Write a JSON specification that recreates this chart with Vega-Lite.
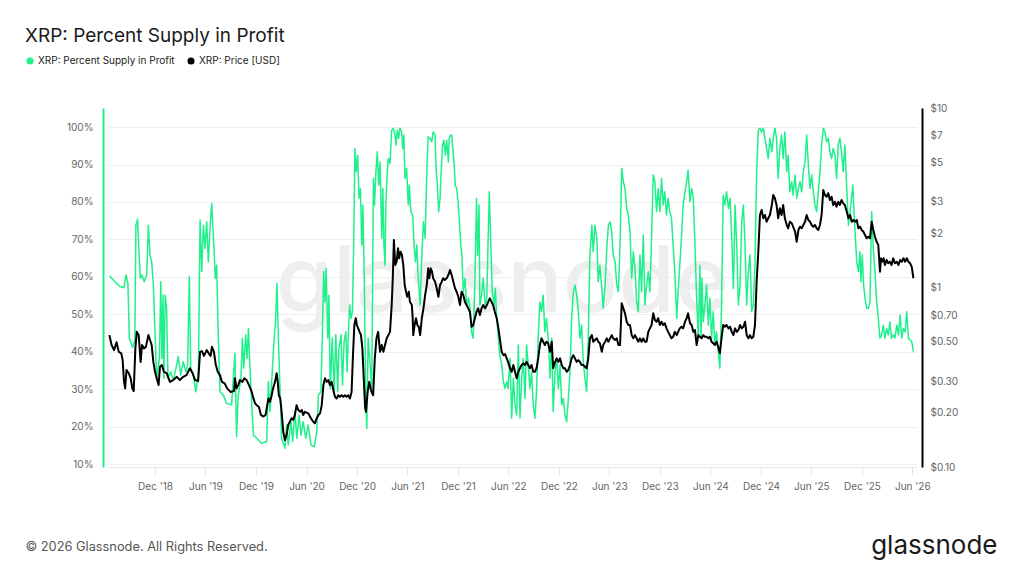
{
  "$schema": "https://vega.github.io/schema/vega-lite/v6.json",
  "width": 809,
  "height": 359,
  "autosize": {"type": "none"},
  "padding": {"left": 108, "top": 108, "right": 107, "bottom": 109},
  "background": "#ffffff",
  "config": {"font": "Inter", "view": {"stroke": null}, "axis": {"labelOverlap": false}},
  "title": {"text": "XRP: Percent Supply in Profit", "anchor": "start", "frame": "group", "dx": -83, "dy": 5, "offset": 0, "fontSize": 19, "fontWeight": 400, "color": "#1a1a1a", "font": "Inter", "baseline": "alphabetic"},
  "datasets": {
    "supply": [
{"d":"2018-06-19","v":60.3},{"d":"2018-07-09","v":58.7},{"d":"2018-07-27","v":57.4},{"d":"2018-08-11","v":57.1},{"d":"2018-08-18","v":60.5},{"d":"2018-08-25","v":58.3},{"d":"2018-08-30","v":43.6},{"d":"2018-09-11","v":41.1},{"d":"2018-09-19","v":43.1},{"d":"2018-09-23","v":73.8},{"d":"2018-09-29","v":75.4},{"d":"2018-10-04","v":66.7},{"d":"2018-10-09","v":59.6},{"d":"2018-10-15","v":60.5},{"d":"2018-10-23","v":58.7},{"d":"2018-11-01","v":60.5},{"d":"2018-11-07","v":73.8},{"d":"2018-11-13","v":65.8},{"d":"2018-11-19","v":64.0},{"d":"2018-11-25","v":57.8},{"d":"2018-12-01","v":45.3},{"d":"2018-12-07","v":32.9},{"d":"2018-12-17","v":38.2},{"d":"2018-12-22","v":58.7},{"d":"2018-12-26","v":38.2},{"d":"2018-12-30","v":55.1},
{"d":"2019-01-02","v":32.9},{"d":"2019-01-07","v":55.1},{"d":"2019-01-12","v":51.6},{"d":"2019-01-17","v":32.9},{"d":"2019-01-27","v":34.6},{"d":"2019-02-05","v":32.4},{"d":"2019-02-15","v":35.6},{"d":"2019-02-23","v":38.7},{"d":"2019-03-04","v":33.8},{"d":"2019-03-13","v":37.3},{"d":"2019-03-23","v":34.6},{"d":"2019-03-29","v":36.4},{"d":"2019-04-04","v":60.0},{"d":"2019-04-09","v":35.6},{"d":"2019-04-18","v":33.8},{"d":"2019-04-28","v":29.3},{"d":"2019-05-07","v":34.6},{"d":"2019-05-13","v":75.2},{"d":"2019-05-19","v":61.4},{"d":"2019-05-25","v":73.8},{"d":"2019-05-31","v":67.6},{"d":"2019-06-06","v":74.7},{"d":"2019-06-12","v":64.0},{"d":"2019-06-18","v":72.9},{"d":"2019-06-24","v":79.6},{"d":"2019-06-30","v":71.2},{"d":"2019-07-07","v":59.6},{"d":"2019-07-12","v":63.1},{"d":"2019-07-18","v":43.6},{"d":"2019-07-24","v":29.3},{"d":"2019-08-05","v":28.4},{"d":"2019-08-17","v":26.2},{"d":"2019-09-04","v":25.8},{"d":"2019-09-16","v":39.6},{"d":"2019-09-22","v":17.3},{"d":"2019-09-28","v":28.4},{"d":"2019-10-08","v":32.9},{"d":"2019-10-13","v":43.6},{"d":"2019-10-18","v":35.6},{"d":"2019-10-25","v":44.5},{"d":"2019-10-30","v":38.2},{"d":"2019-11-04","v":46.2},{"d":"2019-11-09","v":36.4},{"d":"2019-11-16","v":25.8},{"d":"2019-11-22","v":17.7},{"d":"2019-12-04","v":16.9},{"d":"2019-12-22","v":15.5},
{"d":"2020-01-09","v":16.0},{"d":"2020-01-15","v":32.0},{"d":"2020-01-21","v":24.0},{"d":"2020-01-29","v":34.6},{"d":"2020-02-05","v":43.6},{"d":"2020-02-10","v":48.0},{"d":"2020-02-15","v":58.3},{"d":"2020-02-21","v":41.8},{"d":"2020-02-26","v":30.2},{"d":"2020-03-03","v":16.9},{"d":"2020-03-15","v":14.2},{"d":"2020-03-21","v":20.4},{"d":"2020-03-27","v":15.1},{"d":"2020-04-06","v":21.3},{"d":"2020-04-12","v":16.0},{"d":"2020-04-20","v":24.0},{"d":"2020-04-27","v":16.9},{"d":"2020-05-05","v":23.1},{"d":"2020-05-12","v":17.7},{"d":"2020-05-20","v":21.3},{"d":"2020-05-29","v":16.9},{"d":"2020-06-07","v":20.4},{"d":"2020-06-17","v":15.1},{"d":"2020-06-29","v":14.6},{"d":"2020-07-08","v":18.6},{"d":"2020-07-14","v":28.4},{"d":"2020-07-23","v":29.3},{"d":"2020-07-28","v":43.6},{"d":"2020-08-02","v":61.4},{"d":"2020-08-07","v":53.3},{"d":"2020-08-11","v":62.3},{"d":"2020-08-17","v":43.6},{"d":"2020-08-21","v":55.1},{"d":"2020-08-26","v":30.2},{"d":"2020-09-02","v":43.6},{"d":"2020-09-09","v":29.3},{"d":"2020-09-15","v":44.5},{"d":"2020-09-22","v":29.3},{"d":"2020-09-26","v":40.9},{"d":"2020-10-04","v":44.5},{"d":"2020-10-09","v":31.1},{"d":"2020-10-15","v":42.7},{"d":"2020-10-21","v":45.3},{"d":"2020-10-26","v":34.6},{"d":"2020-10-30","v":43.6},{"d":"2020-11-04","v":52.5},{"d":"2020-11-09","v":48.9},{"d":"2020-11-14","v":50.7},{"d":"2020-11-19","v":70.3},{"d":"2020-11-23","v":94.3},{"d":"2020-11-28","v":88.1},{"d":"2020-12-03","v":92.5},{"d":"2020-12-08","v":81.0},{"d":"2020-12-13","v":83.6},{"d":"2020-12-18","v":68.5},{"d":"2020-12-22","v":79.2},{"d":"2020-12-27","v":58.7},
{"d":"2021-01-01","v":28.4},{"d":"2021-01-05","v":19.5},{"d":"2021-01-10","v":43.6},{"d":"2021-01-23","v":30.2},{"d":"2021-01-29","v":86.3},{"d":"2021-02-02","v":79.2},{"d":"2021-02-07","v":88.1},{"d":"2021-02-12","v":93.4},{"d":"2021-02-17","v":84.5},{"d":"2021-02-22","v":90.7},{"d":"2021-02-28","v":70.3},{"d":"2021-03-04","v":83.6},{"d":"2021-03-08","v":68.5},{"d":"2021-03-12","v":63.1},{"d":"2021-03-15","v":79.2},{"d":"2021-03-20","v":88.1},{"d":"2021-03-24","v":91.6},{"d":"2021-03-30","v":90.3},{"d":"2021-04-05","v":99.2},{"d":"2021-04-11","v":99.7},{"d":"2021-04-17","v":97.9},{"d":"2021-04-21","v":95.2},{"d":"2021-04-25","v":99.2},{"d":"2021-04-30","v":97.0},{"d":"2021-05-05","v":99.7},{"d":"2021-05-11","v":98.7},{"d":"2021-05-15","v":94.3},{"d":"2021-05-19","v":97.9},{"d":"2021-05-23","v":86.3},{"d":"2021-05-29","v":89.0},{"d":"2021-06-04","v":79.2},{"d":"2021-06-08","v":84.5},{"d":"2021-06-13","v":77.4},{"d":"2021-06-20","v":76.5},{"d":"2021-06-25","v":68.5},{"d":"2021-06-30","v":64.0},{"d":"2021-07-05","v":68.5},{"d":"2021-07-10","v":59.6},{"d":"2021-07-17","v":52.5},{"d":"2021-07-23","v":65.8},{"d":"2021-07-29","v":74.7},{"d":"2021-08-04","v":70.3},{"d":"2021-08-10","v":88.1},{"d":"2021-08-15","v":97.4},{"d":"2021-08-22","v":97.0},{"d":"2021-08-28","v":96.1},{"d":"2021-09-02","v":98.7},{"d":"2021-09-09","v":97.9},{"d":"2021-09-12","v":89.9},{"d":"2021-09-17","v":84.5},{"d":"2021-09-22","v":77.4},{"d":"2021-09-27","v":81.0},{"d":"2021-10-01","v":88.1},{"d":"2021-10-06","v":95.2},{"d":"2021-10-11","v":96.5},{"d":"2021-10-16","v":92.5},{"d":"2021-10-21","v":96.5},{"d":"2021-10-27","v":90.7},{"d":"2021-10-30","v":97.0},{"d":"2021-11-05","v":97.9},{"d":"2021-11-08","v":97.9},{"d":"2021-11-12","v":94.3},{"d":"2021-11-17","v":89.9},{"d":"2021-11-21","v":84.5},{"d":"2021-11-26","v":83.6},{"d":"2021-12-01","v":80.1},{"d":"2021-12-06","v":74.7},{"d":"2021-12-11","v":68.5},{"d":"2021-12-15","v":65.8},{"d":"2021-12-20","v":56.0},{"d":"2021-12-26","v":59.6},
{"d":"2022-01-01","v":52.5},{"d":"2022-01-07","v":54.3},{"d":"2022-01-13","v":51.6},{"d":"2022-01-19","v":45.3},{"d":"2022-01-25","v":43.6},{"d":"2022-01-31","v":58.7},{"d":"2022-02-06","v":81.0},{"d":"2022-02-10","v":65.8},{"d":"2022-02-15","v":79.2},{"d":"2022-02-18","v":52.5},{"d":"2022-02-24","v":55.1},{"d":"2022-03-02","v":59.6},{"d":"2022-03-09","v":52.5},{"d":"2022-03-15","v":54.3},{"d":"2022-03-20","v":70.3},{"d":"2022-03-24","v":82.7},{"d":"2022-03-29","v":70.3},{"d":"2022-04-04","v":56.0},{"d":"2022-04-10","v":52.5},{"d":"2022-04-15","v":56.9},{"d":"2022-04-20","v":48.9},{"d":"2022-04-26","v":43.6},{"d":"2022-05-01","v":39.1},{"d":"2022-05-08","v":36.4},{"d":"2022-05-14","v":32.0},{"d":"2022-05-20","v":30.2},{"d":"2022-05-26","v":32.0},{"d":"2022-05-31","v":30.2},{"d":"2022-06-07","v":38.2},{"d":"2022-06-13","v":22.2},{"d":"2022-06-19","v":32.9},{"d":"2022-06-25","v":25.8},{"d":"2022-07-01","v":23.1},{"d":"2022-07-07","v":41.8},{"d":"2022-07-13","v":22.2},{"d":"2022-07-19","v":32.9},{"d":"2022-07-25","v":38.2},{"d":"2022-07-31","v":27.5},{"d":"2022-08-06","v":41.8},{"d":"2022-08-12","v":36.4},{"d":"2022-08-18","v":30.2},{"d":"2022-08-24","v":34.6},{"d":"2022-08-30","v":25.8},{"d":"2022-09-05","v":22.2},{"d":"2022-09-11","v":29.3},{"d":"2022-09-17","v":43.6},{"d":"2022-09-23","v":53.3},{"d":"2022-09-29","v":50.7},{"d":"2022-10-05","v":55.1},{"d":"2022-10-11","v":45.3},{"d":"2022-10-17","v":48.9},{"d":"2022-10-23","v":43.6},{"d":"2022-10-30","v":32.9},{"d":"2022-11-05","v":43.6},{"d":"2022-11-10","v":24.0},{"d":"2022-11-17","v":34.6},{"d":"2022-11-23","v":38.2},{"d":"2022-11-29","v":30.2},{"d":"2022-12-05","v":36.4},{"d":"2022-12-11","v":25.8},{"d":"2022-12-17","v":27.5},{"d":"2022-12-23","v":23.1},{"d":"2022-12-29","v":21.3},
{"d":"2023-01-04","v":27.5},{"d":"2023-01-10","v":34.6},{"d":"2023-01-16","v":48.9},{"d":"2023-01-22","v":56.0},{"d":"2023-01-28","v":57.8},{"d":"2023-02-03","v":55.1},{"d":"2023-02-09","v":50.7},{"d":"2023-02-15","v":43.6},{"d":"2023-02-21","v":47.1},{"d":"2023-02-27","v":37.3},{"d":"2023-03-05","v":32.9},{"d":"2023-03-11","v":29.3},{"d":"2023-03-17","v":43.6},{"d":"2023-03-23","v":65.8},{"d":"2023-03-30","v":73.8},{"d":"2023-04-04","v":66.7},{"d":"2023-04-10","v":73.8},{"d":"2023-04-17","v":70.3},{"d":"2023-04-22","v":58.7},{"d":"2023-04-28","v":63.1},{"d":"2023-05-05","v":56.9},{"d":"2023-05-10","v":51.6},{"d":"2023-05-17","v":57.8},{"d":"2023-05-23","v":67.6},{"d":"2023-05-29","v":73.8},{"d":"2023-06-04","v":74.7},{"d":"2023-06-10","v":72.0},{"d":"2023-06-15","v":65.8},{"d":"2023-06-22","v":64.0},{"d":"2023-06-28","v":57.8},{"d":"2023-07-04","v":56.0},{"d":"2023-07-10","v":68.5},{"d":"2023-07-16","v":89.0},{"d":"2023-07-22","v":85.4},{"d":"2023-07-28","v":83.6},{"d":"2023-08-03","v":78.3},{"d":"2023-08-09","v":76.5},{"d":"2023-08-15","v":72.0},{"d":"2023-08-21","v":59.6},{"d":"2023-08-27","v":66.7},{"d":"2023-09-02","v":62.3},{"d":"2023-09-08","v":53.3},{"d":"2023-09-14","v":50.7},{"d":"2023-09-20","v":65.8},{"d":"2023-09-26","v":56.0},{"d":"2023-10-02","v":71.2},{"d":"2023-10-08","v":52.5},{"d":"2023-10-14","v":57.8},{"d":"2023-10-20","v":61.4},{"d":"2023-10-26","v":56.0},{"d":"2023-11-01","v":70.3},{"d":"2023-11-07","v":87.2},{"d":"2023-11-13","v":85.4},{"d":"2023-11-19","v":77.4},{"d":"2023-11-25","v":83.6},{"d":"2023-12-01","v":77.4},{"d":"2023-12-07","v":86.3},{"d":"2023-12-13","v":79.2},{"d":"2023-12-19","v":82.7},{"d":"2023-12-25","v":76.5},{"d":"2023-12-31","v":81.0},
{"d":"2024-01-06","v":77.4},{"d":"2024-01-12","v":75.6},{"d":"2024-01-18","v":68.5},{"d":"2024-01-24","v":61.4},{"d":"2024-01-31","v":48.9},{"d":"2024-02-05","v":56.0},{"d":"2024-02-11","v":63.1},{"d":"2024-02-17","v":70.3},{"d":"2024-02-23","v":79.2},{"d":"2024-03-01","v":82.7},{"d":"2024-03-07","v":85.4},{"d":"2024-03-12","v":88.5},{"d":"2024-03-19","v":80.1},{"d":"2024-03-25","v":83.6},{"d":"2024-03-31","v":81.0},{"d":"2024-04-06","v":68.5},{"d":"2024-04-12","v":54.3},{"d":"2024-04-18","v":43.6},{"d":"2024-04-24","v":63.1},{"d":"2024-04-28","v":43.6},{"d":"2024-05-01","v":59.6},{"d":"2024-05-06","v":48.0},{"d":"2024-05-12","v":52.5},{"d":"2024-05-18","v":57.8},{"d":"2024-05-24","v":47.1},{"d":"2024-05-30","v":54.3},{"d":"2024-06-05","v":43.6},{"d":"2024-06-11","v":50.7},{"d":"2024-06-17","v":41.8},{"d":"2024-06-23","v":45.3},{"d":"2024-06-29","v":40.0},{"d":"2024-07-05","v":35.6},{"d":"2024-07-11","v":52.5},{"d":"2024-07-17","v":81.8},{"d":"2024-07-23","v":79.2},{"d":"2024-07-29","v":82.7},{"d":"2024-08-05","v":78.3},{"d":"2024-08-11","v":81.0},{"d":"2024-08-17","v":70.3},{"d":"2024-08-23","v":56.9},{"d":"2024-08-29","v":79.2},{"d":"2024-09-04","v":68.5},{"d":"2024-09-10","v":52.5},{"d":"2024-09-16","v":57.8},{"d":"2024-09-22","v":74.7},{"d":"2024-09-28","v":79.2},{"d":"2024-10-04","v":68.5},{"d":"2024-10-10","v":52.5},{"d":"2024-10-16","v":61.4},{"d":"2024-10-22","v":65.8},{"d":"2024-10-28","v":50.7},{"d":"2024-11-03","v":52.5},{"d":"2024-11-09","v":63.1},{"d":"2024-11-15","v":88.1},{"d":"2024-11-21","v":99.2},{"d":"2024-11-27","v":99.7},{"d":"2024-12-03","v":98.7},{"d":"2024-12-09","v":99.7},{"d":"2024-12-15","v":97.0},{"d":"2024-12-21","v":94.3},{"d":"2024-12-27","v":91.6},
{"d":"2025-01-02","v":97.0},{"d":"2025-01-09","v":93.4},{"d":"2025-01-14","v":97.0},{"d":"2025-01-20","v":99.7},{"d":"2025-01-26","v":97.0},{"d":"2025-02-01","v":86.3},{"d":"2025-02-07","v":94.3},{"d":"2025-02-13","v":97.9},{"d":"2025-02-19","v":91.6},{"d":"2025-02-25","v":98.7},{"d":"2025-03-04","v":88.1},{"d":"2025-03-09","v":92.5},{"d":"2025-03-15","v":82.7},{"d":"2025-03-22","v":85.4},{"d":"2025-03-27","v":81.8},{"d":"2025-04-03","v":87.2},{"d":"2025-04-09","v":81.0},{"d":"2025-04-15","v":83.6},{"d":"2025-04-21","v":85.4},{"d":"2025-04-27","v":82.7},{"d":"2025-05-03","v":88.1},{"d":"2025-05-09","v":90.7},{"d":"2025-05-15","v":97.9},{"d":"2025-05-21","v":89.9},{"d":"2025-05-27","v":83.6},{"d":"2025-06-02","v":87.2},{"d":"2025-06-08","v":82.7},{"d":"2025-06-14","v":79.2},{"d":"2025-06-20","v":77.4},{"d":"2025-06-26","v":82.7},{"d":"2025-07-02","v":88.1},{"d":"2025-07-08","v":95.2},{"d":"2025-07-14","v":99.7},{"d":"2025-07-20","v":98.7},{"d":"2025-07-26","v":96.1},{"d":"2025-08-01","v":97.0},{"d":"2025-08-07","v":93.4},{"d":"2025-08-13","v":91.6},{"d":"2025-08-19","v":94.3},{"d":"2025-08-25","v":92.5},{"d":"2025-08-31","v":86.3},{"d":"2025-09-06","v":95.2},{"d":"2025-09-12","v":97.0},{"d":"2025-09-18","v":93.4},{"d":"2025-09-24","v":88.1},{"d":"2025-09-30","v":95.2},{"d":"2025-10-07","v":83.6},{"d":"2025-10-13","v":73.8},{"d":"2025-10-19","v":77.4},{"d":"2025-10-25","v":81.8},{"d":"2025-10-29","v":84.5},{"d":"2025-11-01","v":79.2},{"d":"2025-11-06","v":72.0},{"d":"2025-11-12","v":64.0},{"d":"2025-11-18","v":61.4},{"d":"2025-11-24","v":66.7},{"d":"2025-11-27","v":58.7},{"d":"2025-12-02","v":65.8},{"d":"2025-12-07","v":57.8},{"d":"2025-12-12","v":54.3},{"d":"2025-12-18","v":51.6},{"d":"2025-12-24","v":51.6},{"d":"2025-12-30","v":53.3},
{"d":"2026-01-05","v":77.4},{"d":"2026-01-11","v":67.6},{"d":"2026-01-17","v":61.4},{"d":"2026-01-23","v":53.3},{"d":"2026-01-29","v":48.9},{"d":"2026-02-04","v":43.6},{"d":"2026-02-10","v":44.5},{"d":"2026-02-16","v":47.1},{"d":"2026-02-22","v":43.6},{"d":"2026-02-28","v":46.2},{"d":"2026-03-06","v":44.5},{"d":"2026-03-12","v":48.0},{"d":"2026-03-18","v":43.6},{"d":"2026-03-24","v":44.5},{"d":"2026-03-30","v":43.6},{"d":"2026-04-06","v":47.1},{"d":"2026-04-12","v":44.5},{"d":"2026-04-18","v":49.8},{"d":"2026-04-24","v":43.6},{"d":"2026-04-30","v":46.2},{"d":"2026-05-06","v":45.3},{"d":"2026-05-12","v":50.7},{"d":"2026-05-18","v":43.6},{"d":"2026-05-24","v":43.1},{"d":"2026-05-30","v":42.7},{"d":"2026-06-05","v":40.0}
    ],
    "price": [
{"d":"2018-06-19","p":0.543},{"d":"2018-06-27","p":0.478},{"d":"2018-07-06","p":0.448},{"d":"2018-07-15","p":0.495},{"d":"2018-07-23","p":0.438},{"d":"2018-08-01","p":0.430},{"d":"2018-08-06","p":0.394},{"d":"2018-08-11","p":0.298},{"d":"2018-08-15","p":0.274},{"d":"2018-08-20","p":0.347},{"d":"2018-08-28","p":0.333},{"d":"2018-09-04","p":0.312},{"d":"2018-09-10","p":0.274},{"d":"2018-09-15","p":0.265},{"d":"2018-09-21","p":0.458},{"d":"2018-09-26","p":0.566},{"d":"2018-10-03","p":0.543},{"d":"2018-10-10","p":0.385},{"d":"2018-10-15","p":0.478},{"d":"2018-10-22","p":0.458},{"d":"2018-10-29","p":0.467},{"d":"2018-11-07","p":0.543},{"d":"2018-11-13","p":0.510},{"d":"2018-11-19","p":0.478},{"d":"2018-11-25","p":0.385},{"d":"2018-12-01","p":0.339},{"d":"2018-12-07","p":0.312},{"d":"2018-12-14","p":0.286},{"d":"2018-12-19","p":0.362},{"d":"2018-12-26","p":0.370},
{"d":"2019-01-02","p":0.339},{"d":"2019-01-12","p":0.333},{"d":"2019-01-24","p":0.298},{"d":"2019-02-05","p":0.305},{"d":"2019-02-18","p":0.318},{"d":"2019-03-01","p":0.305},{"d":"2019-03-13","p":0.318},{"d":"2019-03-25","p":0.325},{"d":"2019-04-06","p":0.355},{"d":"2019-04-16","p":0.333},{"d":"2019-04-25","p":0.305},{"d":"2019-05-06","p":0.301},{"d":"2019-05-13","p":0.438},{"d":"2019-05-20","p":0.442},{"d":"2019-05-27","p":0.416},{"d":"2019-06-06","p":0.448},{"d":"2019-06-13","p":0.430},{"d":"2019-06-20","p":0.416},{"d":"2019-06-25","p":0.467},{"d":"2019-07-02","p":0.438},{"d":"2019-07-09","p":0.370},{"d":"2019-07-16","p":0.339},{"d":"2019-07-24","p":0.325},{"d":"2019-07-31","p":0.298},{"d":"2019-08-10","p":0.292},{"d":"2019-08-19","p":0.274},{"d":"2019-08-31","p":0.262},{"d":"2019-09-13","p":0.265},{"d":"2019-09-16","p":0.312},{"d":"2019-09-22","p":0.274},{"d":"2019-09-28","p":0.286},{"d":"2019-10-04","p":0.305},{"d":"2019-10-13","p":0.298},{"d":"2019-10-20","p":0.312},{"d":"2019-10-28","p":0.305},{"d":"2019-11-06","p":0.286},{"d":"2019-11-16","p":0.262},{"d":"2019-11-22","p":0.241},{"d":"2019-11-28","p":0.226},{"d":"2019-12-04","p":0.221},{"d":"2019-12-12","p":0.216},{"d":"2019-12-19","p":0.195},{"d":"2019-12-28","p":0.191},
{"d":"2020-01-05","p":0.195},{"d":"2020-01-15","p":0.241},{"d":"2020-01-21","p":0.231},{"d":"2020-01-27","p":0.251},{"d":"2020-02-01","p":0.274},{"d":"2020-02-08","p":0.298},{"d":"2020-02-14","p":0.333},{"d":"2020-02-18","p":0.298},{"d":"2020-02-22","p":0.251},{"d":"2020-02-27","p":0.241},{"d":"2020-03-03","p":0.203},{"d":"2020-03-09","p":0.157},{"d":"2020-03-15","p":0.141},{"d":"2020-03-21","p":0.151},{"d":"2020-03-27","p":0.172},{"d":"2020-04-02","p":0.179},{"d":"2020-04-08","p":0.187},{"d":"2020-04-14","p":0.183},{"d":"2020-04-20","p":0.195},{"d":"2020-04-26","p":0.221},{"d":"2020-05-02","p":0.208},{"d":"2020-05-09","p":0.203},{"d":"2020-05-15","p":0.208},{"d":"2020-05-20","p":0.195},{"d":"2020-05-26","p":0.203},{"d":"2020-06-07","p":0.199},{"d":"2020-06-17","p":0.187},{"d":"2020-06-25","p":0.179},{"d":"2020-07-01","p":0.175},{"d":"2020-07-08","p":0.187},{"d":"2020-07-14","p":0.195},{"d":"2020-07-20","p":0.199},{"d":"2020-07-26","p":0.221},{"d":"2020-08-01","p":0.286},{"d":"2020-08-07","p":0.312},{"d":"2020-08-13","p":0.298},{"d":"2020-08-19","p":0.305},{"d":"2020-08-25","p":0.286},{"d":"2020-08-31","p":0.298},{"d":"2020-09-06","p":0.268},{"d":"2020-09-12","p":0.246},{"d":"2020-09-18","p":0.241},{"d":"2020-09-24","p":0.251},{"d":"2020-09-30","p":0.246},{"d":"2020-10-06","p":0.251},{"d":"2020-10-12","p":0.246},{"d":"2020-10-18","p":0.251},{"d":"2020-10-24","p":0.246},{"d":"2020-10-30","p":0.251},{"d":"2020-11-05","p":0.241},{"d":"2020-11-11","p":0.262},{"d":"2020-11-16","p":0.420},{"d":"2020-11-21","p":0.618},{"d":"2020-11-26","p":0.674},{"d":"2020-11-30","p":0.618},{"d":"2020-12-05","p":0.592},{"d":"2020-12-10","p":0.566},{"d":"2020-12-15","p":0.543},{"d":"2020-12-20","p":0.458},{"d":"2020-12-25","p":0.312},{"d":"2020-12-30","p":0.213},
{"d":"2021-01-02","p":0.203},{"d":"2021-01-08","p":0.262},{"d":"2021-01-14","p":0.298},{"d":"2021-01-20","p":0.268},{"d":"2021-01-28","p":0.251},{"d":"2021-02-03","p":0.403},{"d":"2021-02-09","p":0.521},{"d":"2021-02-15","p":0.566},{"d":"2021-02-22","p":0.438},{"d":"2021-02-28","p":0.478},{"d":"2021-03-06","p":0.438},{"d":"2021-03-12","p":0.478},{"d":"2021-03-18","p":0.521},{"d":"2021-03-24","p":0.543},{"d":"2021-03-30","p":0.566},{"d":"2021-04-05","p":0.798},{"d":"2021-04-09","p":1.126},{"d":"2021-04-13","p":1.839},{"d":"2021-04-18","p":1.334},{"d":"2021-04-23","p":1.392},{"d":"2021-04-28","p":1.654},{"d":"2021-05-02","p":1.455},{"d":"2021-05-07","p":1.583},{"d":"2021-05-12","p":1.518},{"d":"2021-05-17","p":1.334},{"d":"2021-05-22","p":1.033},{"d":"2021-05-27","p":0.947},{"d":"2021-05-31","p":0.888},{"d":"2021-06-06","p":0.947},{"d":"2021-06-10","p":0.832},{"d":"2021-06-17","p":0.798},{"d":"2021-06-20","p":0.674},{"d":"2021-06-22","p":0.543},{"d":"2021-06-27","p":0.618},{"d":"2021-07-02","p":0.674},{"d":"2021-07-07","p":0.618},{"d":"2021-07-12","p":0.604},{"d":"2021-07-17","p":0.543},{"d":"2021-07-23","p":0.674},{"d":"2021-07-29","p":0.765},{"d":"2021-08-04","p":0.908},{"d":"2021-08-10","p":1.033},{"d":"2021-08-15","p":1.279},{"d":"2021-08-19","p":1.126},{"d":"2021-08-24","p":1.279},{"d":"2021-08-29","p":1.224},{"d":"2021-09-02","p":1.126},{"d":"2021-09-09","p":1.077},{"d":"2021-09-15","p":0.990},{"d":"2021-09-21","p":0.888},{"d":"2021-09-27","p":1.033},{"d":"2021-10-03","p":1.077},{"d":"2021-10-08","p":1.126},{"d":"2021-10-14","p":1.101},{"d":"2021-10-21","p":1.126},{"d":"2021-10-27","p":1.173},{"d":"2021-11-02","p":1.251},{"d":"2021-11-08","p":1.173},{"d":"2021-11-14","p":1.077},{"d":"2021-11-20","p":0.990},{"d":"2021-11-26","p":0.947},{"d":"2021-12-02","p":0.888},{"d":"2021-12-08","p":0.798},{"d":"2021-12-14","p":0.947},{"d":"2021-12-20","p":0.908},{"d":"2021-12-26","p":0.832},
{"d":"2022-01-01","p":0.798},{"d":"2022-01-07","p":0.765},{"d":"2022-01-13","p":0.733},{"d":"2022-01-19","p":0.604},{"d":"2022-01-25","p":0.618},{"d":"2022-01-31","p":0.674},{"d":"2022-02-06","p":0.733},{"d":"2022-02-12","p":0.765},{"d":"2022-02-18","p":0.703},{"d":"2022-02-24","p":0.765},{"d":"2022-03-02","p":0.798},{"d":"2022-03-09","p":0.765},{"d":"2022-03-15","p":0.798},{"d":"2022-03-20","p":0.832},{"d":"2022-03-26","p":0.870},{"d":"2022-04-01","p":0.832},{"d":"2022-04-07","p":0.798},{"d":"2022-04-13","p":0.733},{"d":"2022-04-20","p":0.674},{"d":"2022-04-26","p":0.592},{"d":"2022-05-01","p":0.521},{"d":"2022-05-08","p":0.438},{"d":"2022-05-14","p":0.420},{"d":"2022-05-20","p":0.426},{"d":"2022-05-26","p":0.403},{"d":"2022-05-31","p":0.385},{"d":"2022-06-07","p":0.355},{"d":"2022-06-13","p":0.339},{"d":"2022-06-19","p":0.370},{"d":"2022-06-25","p":0.339},{"d":"2022-07-01","p":0.312},{"d":"2022-07-07","p":0.339},{"d":"2022-07-13","p":0.355},{"d":"2022-07-19","p":0.370},{"d":"2022-07-25","p":0.378},{"d":"2022-07-31","p":0.370},{"d":"2022-08-06","p":0.385},{"d":"2022-08-12","p":0.370},{"d":"2022-08-18","p":0.355},{"d":"2022-08-24","p":0.370},{"d":"2022-08-30","p":0.339},{"d":"2022-09-05","p":0.339},{"d":"2022-09-11","p":0.355},{"d":"2022-09-17","p":0.403},{"d":"2022-09-23","p":0.478},{"d":"2022-09-29","p":0.521},{"d":"2022-10-05","p":0.499},{"d":"2022-10-11","p":0.478},{"d":"2022-10-17","p":0.499},{"d":"2022-10-23","p":0.489},{"d":"2022-10-30","p":0.438},{"d":"2022-11-05","p":0.499},{"d":"2022-11-10","p":0.355},{"d":"2022-11-17","p":0.385},{"d":"2022-11-23","p":0.403},{"d":"2022-11-29","p":0.385},{"d":"2022-12-05","p":0.403},{"d":"2022-12-11","p":0.370},{"d":"2022-12-17","p":0.355},{"d":"2022-12-23","p":0.355},{"d":"2022-12-29","p":0.339},
{"d":"2023-01-04","p":0.347},{"d":"2023-01-10","p":0.370},{"d":"2023-01-16","p":0.403},{"d":"2023-01-22","p":0.420},{"d":"2023-01-28","p":0.403},{"d":"2023-02-03","p":0.385},{"d":"2023-02-09","p":0.394},{"d":"2023-02-15","p":0.385},{"d":"2023-02-21","p":0.370},{"d":"2023-02-27","p":0.370},{"d":"2023-03-05","p":0.362},{"d":"2023-03-11","p":0.355},{"d":"2023-03-17","p":0.403},{"d":"2023-03-23","p":0.521},{"d":"2023-03-30","p":0.543},{"d":"2023-04-04","p":0.499},{"d":"2023-04-10","p":0.510},{"d":"2023-04-17","p":0.521},{"d":"2023-04-22","p":0.499},{"d":"2023-04-28","p":0.489},{"d":"2023-05-05","p":0.438},{"d":"2023-05-10","p":0.478},{"d":"2023-05-17","p":0.499},{"d":"2023-05-23","p":0.521},{"d":"2023-05-29","p":0.499},{"d":"2023-06-04","p":0.521},{"d":"2023-06-10","p":0.543},{"d":"2023-06-15","p":0.521},{"d":"2023-06-22","p":0.510},{"d":"2023-06-28","p":0.521},{"d":"2023-07-04","p":0.478},{"d":"2023-07-10","p":0.478},{"d":"2023-07-16","p":0.816},{"d":"2023-07-22","p":0.765},{"d":"2023-07-28","p":0.718},{"d":"2023-08-03","p":0.645},{"d":"2023-08-09","p":0.618},{"d":"2023-08-15","p":0.618},{"d":"2023-08-21","p":0.543},{"d":"2023-08-27","p":0.521},{"d":"2023-09-02","p":0.543},{"d":"2023-09-08","p":0.521},{"d":"2023-09-14","p":0.499},{"d":"2023-09-20","p":0.521},{"d":"2023-09-26","p":0.499},{"d":"2023-10-02","p":0.521},{"d":"2023-10-08","p":0.499},{"d":"2023-10-14","p":0.499},{"d":"2023-10-20","p":0.566},{"d":"2023-10-26","p":0.592},{"d":"2023-11-01","p":0.618},{"d":"2023-11-07","p":0.718},{"d":"2023-11-13","p":0.659},{"d":"2023-11-19","p":0.645},{"d":"2023-11-25","p":0.674},{"d":"2023-12-01","p":0.618},{"d":"2023-12-07","p":0.645},{"d":"2023-12-13","p":0.618},{"d":"2023-12-19","p":0.632},{"d":"2023-12-25","p":0.592},{"d":"2023-12-31","p":0.566},
{"d":"2024-01-06","p":0.543},{"d":"2024-01-12","p":0.521},{"d":"2024-01-18","p":0.531},{"d":"2024-01-24","p":0.566},{"d":"2024-01-31","p":0.543},{"d":"2024-02-05","p":0.566},{"d":"2024-02-11","p":0.592},{"d":"2024-02-17","p":0.604},{"d":"2024-02-23","p":0.592},{"d":"2024-03-01","p":0.645},{"d":"2024-03-07","p":0.674},{"d":"2024-03-12","p":0.718},{"d":"2024-03-19","p":0.632},{"d":"2024-03-25","p":0.618},{"d":"2024-03-31","p":0.566},{"d":"2024-04-06","p":0.579},{"d":"2024-04-12","p":0.478},{"d":"2024-04-18","p":0.543},{"d":"2024-04-24","p":0.531},{"d":"2024-04-30","p":0.521},{"d":"2024-05-06","p":0.543},{"d":"2024-05-12","p":0.531},{"d":"2024-05-18","p":0.531},{"d":"2024-05-24","p":0.521},{"d":"2024-05-30","p":0.531},{"d":"2024-06-05","p":0.499},{"d":"2024-06-11","p":0.489},{"d":"2024-06-17","p":0.478},{"d":"2024-06-23","p":0.499},{"d":"2024-06-29","p":0.467},{"d":"2024-07-05","p":0.430},{"d":"2024-07-11","p":0.521},{"d":"2024-07-17","p":0.618},{"d":"2024-07-23","p":0.604},{"d":"2024-07-29","p":0.618},{"d":"2024-08-05","p":0.592},{"d":"2024-08-11","p":0.604},{"d":"2024-08-17","p":0.566},{"d":"2024-08-23","p":0.543},{"d":"2024-08-29","p":0.592},{"d":"2024-09-04","p":0.566},{"d":"2024-09-10","p":0.579},{"d":"2024-09-16","p":0.618},{"d":"2024-09-22","p":0.592},{"d":"2024-09-28","p":0.604},{"d":"2024-10-04","p":0.645},{"d":"2024-10-10","p":0.543},{"d":"2024-10-16","p":0.521},{"d":"2024-10-22","p":0.543},{"d":"2024-10-28","p":0.521},{"d":"2024-11-03","p":0.531},{"d":"2024-11-09","p":0.618},{"d":"2024-11-15","p":1.077},{"d":"2024-11-21","p":1.583},{"d":"2024-11-27","p":2.535},{"d":"2024-12-03","p":2.703},{"d":"2024-12-09","p":2.43},{"d":"2024-12-15","p":2.535},{"d":"2024-12-21","p":2.325},{"d":"2024-12-27","p":2.43},
{"d":"2025-01-02","p":2.535},{"d":"2025-01-09","p":2.883},{"d":"2025-01-14","p":3.276},{"d":"2025-01-20","p":3.141},{"d":"2025-01-26","p":2.883},{"d":"2025-02-01","p":2.43},{"d":"2025-02-07","p":2.764},{"d":"2025-02-13","p":2.535},{"d":"2025-02-19","p":2.883},{"d":"2025-02-25","p":2.43},{"d":"2025-03-04","p":2.229},{"d":"2025-03-09","p":2.137},{"d":"2025-03-15","p":2.325},{"d":"2025-03-22","p":2.28},{"d":"2025-03-27","p":2.18},{"d":"2025-04-03","p":2.045},{"d":"2025-04-09","p":1.799},{"d":"2025-04-15","p":2.091},{"d":"2025-04-21","p":2.18},{"d":"2025-04-27","p":2.137},{"d":"2025-05-03","p":2.229},{"d":"2025-05-09","p":2.325},{"d":"2025-05-15","p":2.535},{"d":"2025-05-21","p":2.377},{"d":"2025-05-27","p":2.325},{"d":"2025-06-02","p":2.229},{"d":"2025-06-08","p":2.18},{"d":"2025-06-14","p":2.229},{"d":"2025-06-20","p":2.137},{"d":"2025-06-26","p":2.091},{"d":"2025-07-02","p":2.229},{"d":"2025-07-08","p":2.535},{"d":"2025-07-14","p":3.493},{"d":"2025-07-20","p":3.276},{"d":"2025-07-26","p":3.203},{"d":"2025-08-01","p":3.35},{"d":"2025-08-07","p":3.074},{"d":"2025-08-13","p":3.203},{"d":"2025-08-19","p":2.883},{"d":"2025-08-25","p":3.006},{"d":"2025-08-31","p":2.819},{"d":"2025-09-06","p":3.006},{"d":"2025-09-12","p":2.883},{"d":"2025-09-18","p":3.074},{"d":"2025-09-24","p":2.948},{"d":"2025-09-30","p":2.883},{"d":"2025-10-07","p":2.644},{"d":"2025-10-13","p":2.43},{"d":"2025-10-19","p":2.535},{"d":"2025-10-25","p":2.325},{"d":"2025-10-31","p":2.377},{"d":"2025-11-06","p":2.325},{"d":"2025-11-12","p":2.377},{"d":"2025-11-18","p":2.137},{"d":"2025-11-24","p":2.18},{"d":"2025-11-30","p":2.091},{"d":"2025-12-06","p":2.045},{"d":"2025-12-12","p":1.961},{"d":"2025-12-18","p":1.88},{"d":"2025-12-24","p":1.917},{"d":"2025-12-30","p":1.88},
{"d":"2026-01-05","p":2.325},{"d":"2026-01-11","p":2.091},{"d":"2026-01-17","p":1.917},{"d":"2026-01-23","p":1.799},{"d":"2026-01-29","p":1.725},{"d":"2026-02-04","p":1.224},{"d":"2026-02-08","p":1.455},{"d":"2026-02-12","p":1.392},{"d":"2026-02-17","p":1.455},{"d":"2026-02-22","p":1.334},{"d":"2026-02-28","p":1.422},{"d":"2026-03-06","p":1.364},{"d":"2026-03-12","p":1.392},{"d":"2026-03-18","p":1.334},{"d":"2026-03-24","p":1.455},{"d":"2026-03-30","p":1.364},{"d":"2026-04-06","p":1.392},{"d":"2026-04-12","p":1.334},{"d":"2026-04-18","p":1.422},{"d":"2026-04-24","p":1.392},{"d":"2026-04-30","p":1.455},{"d":"2026-05-06","p":1.392},{"d":"2026-05-12","p":1.455},{"d":"2026-05-18","p":1.392},{"d":"2026-05-24","p":1.364},{"d":"2026-05-30","p":1.304},{"d":"2026-06-05","p":1.126}
    ]
  },
  "layer": [
    {
      "layer": [
        {
          "data": {"values": [{"label": "glassnode"}]},
          "mark": {"type": "text", "fontSize": 92, "color": "#eeeeee", "align": "center", "baseline": "alphabetic", "font": "Inter", "fontWeight": 500},
          "encoding": {
            "text": {"field": "label"},
            "x": {"datum": {"year": 2022, "month": 5, "date": 11, "utc": true}, "type": "temporal"},
            "y": {
              "datum": 50.6, "type": "quantitative",
              "axis": {
                "title": null, "orient": "left",
                "values": [10, 20, 30, 40, 50, 60, 70, 80, 90, 100],
                "labelExpr": "datum.value + '%'", "labelOverlap": false,
                "domainColor": "#20f08c", "domainWidth": 2, "ticks": false,
                "grid": true, "gridColor": "#efefef", "gridWidth": 1,
                "labelPadding": 10, "labelFontSize": 10, "labelColor": "#666666", "offset": 5
              }
            }
          }
        },
        {
          "data": {"name": "supply"},
          "mark": {"type": "line", "strokeWidth": 1.5, "strokeJoin": "round"},
          "encoding": {
            "x": {
              "field": "d", "type": "temporal",
              "scale": {"type": "utc", "domain": [{"year": 2018, "month": 6, "date": 14, "utc": true}, {"year": 2026, "month": 6, "date": 18, "utc": true}]},
              "axis": {
                "title": "© 2026 Glassnode. All Rights Reserved.",
                "titleX": -83, "titleY": 83, "titleAlign": "left", "titleAnchor": "start", "titleBaseline": "alphabetic",
                "titleFontSize": 12.8, "titleFontWeight": 400, "titleColor": "#555555", "titleFont": "Inter",
                "values": [
                  {"year": 2018, "month": 12, "date": 1, "utc": true}, {"year": 2019, "month": 6, "date": 1, "utc": true},
                  {"year": 2019, "month": 12, "date": 1, "utc": true}, {"year": 2020, "month": 6, "date": 1, "utc": true},
                  {"year": 2020, "month": 12, "date": 1, "utc": true}, {"year": 2021, "month": 6, "date": 1, "utc": true},
                  {"year": 2021, "month": 12, "date": 1, "utc": true}, {"year": 2022, "month": 6, "date": 1, "utc": true},
                  {"year": 2022, "month": 12, "date": 1, "utc": true}, {"year": 2023, "month": 6, "date": 1, "utc": true},
                  {"year": 2023, "month": 12, "date": 1, "utc": true}, {"year": 2024, "month": 6, "date": 1, "utc": true},
                  {"year": 2024, "month": 12, "date": 1, "utc": true}, {"year": 2025, "month": 6, "date": 1, "utc": true},
                  {"year": 2025, "month": 12, "date": 1, "utc": true}, {"year": 2026, "month": 6, "date": 1, "utc": true}
                ],
                "format": "%b '%y",
                "labelFontSize": 10, "labelColor": "#666666", "labelPadding": 6, "labelFlush": false, "labelOverlap": false,
                "tickColor": "#e3e3e3", "tickSize": 8, "domainColor": "#e8e8e8", "grid": false
              }
            },
            "y": {
              "field": "v", "type": "quantitative",
              "scale": {"domain": [9.2, 105.1], "nice": false, "zero": false},
              "axis": {
                "title": null, "orient": "left",
                "values": [10, 20, 30, 40, 50, 60, 70, 80, 90, 100],
                "labelExpr": "datum.value + '%'", "labelOverlap": false,
                "domainColor": "#20f08c", "domainWidth": 2, "ticks": false,
                "grid": true, "gridColor": "#efefef", "gridWidth": 1,
                "labelPadding": 10, "labelFontSize": 10, "labelColor": "#666666", "offset": 5
              }
            },
            "color": {
              "datum": "XRP: Percent Supply in Profit",
              "scale": {"domain": ["XRP: Percent Supply in Profit", "XRP: Price [USD]"], "range": ["#20f08c", "#000000"]},
              "legend": {
                "orient": "none", "legendX": -83, "legendY": -52, "direction": "horizontal", "title": null,
                "symbolType": "circle", "symbolSize": 50, "symbolStrokeWidth": 0,
                "labelFontSize": 10, "labelColor": "#222222", "labelFont": "Inter",
                "columnPadding": 11, "labelOffset": 3, "padding": 0,
                "encode": {"symbols": {"update": {"fill": {"scale": "color", "field": "value"}, "opacity": {"value": 1}}}}
              }
            }
          }
        }
      ]
    },
    {
      "data": {"name": "price"},
      "mark": {"type": "line", "strokeWidth": 2, "strokeJoin": "round"},
      "encoding": {
        "x": {"field": "d", "type": "temporal"},
        "y": {
          "field": "p", "type": "quantitative",
          "scale": {"type": "log", "domain": [0.1, 10], "nice": false},
          "axis": {
            "orient": "right",
            "title": "glassnode", "titleAngle": 0, "titleX": 75, "titleY": 445, "titleAlign": "right", "titleBaseline": "alphabetic",
            "titleFontSize": 26, "titleFontWeight": 400, "titleColor": "#1a1a1a", "titleFont": "Inter",
            "values": [0.1, 0.2, 0.3, 0.5, 0.7, 1, 2, 3, 5, 7, 10],
            "labelExpr": "datum.value >= 1 ? '$' + format(datum.value, 'd') : '$' + format(datum.value, '.2f')",
            "labelOverlap": false,
            "domainColor": "#000000", "domainWidth": 2, "ticks": false, "grid": false,
            "labelPadding": 8, "labelFontSize": 10, "labelColor": "#666666", "offset": 5
          }
        },
        "color": {"datum": "XRP: Price [USD]"}
      }
    }
  ],
  "resolve": {"scale": {"y": "independent"}, "axis": {"y": "independent"}}
}
